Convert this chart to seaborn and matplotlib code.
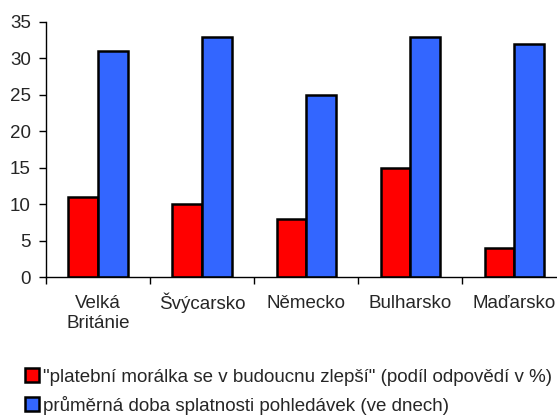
import pandas as pd
import matplotlib
matplotlib.use("Agg")
import matplotlib.pyplot as plt
import matplotlib.transforms as mtransforms
import seaborn as sns

countries = ["Velká\nBritánie", "Švýcarsko", "Německo", "Bulharsko", "Maďarsko"]
morale = [11, 10, 8, 15, 4]
days = [31, 33, 25, 33, 32]
series = ["\"platební morálka se v budoucnu zlepší\" (podíl odpovědí v %)",
          "průměrná doba splatnosti pohledávek (ve dnech)"]
colors = ["#ff0000", "#3366ff"]

df = pd.DataFrame({
    "country": countries * 2,
    "value": morale + days,
    "series": [series[0]] * len(countries) + [series[1]] * len(countries),
})

sns.set_style("white")
plt.rcParams["font.family"] = ["Liberation Sans", "DejaVu Sans"]

fig = plt.figure(figsize=(5.57, 4.16), dpi=100)
ax = fig.add_axes([46 / 557, 1 - 277 / 416, 1 - 46 / 557, (277 - 22) / 416])

sns.barplot(data=df, x="country", y="value", hue="series", palette=colors,
            saturation=1, width=0.57, edgecolor="black", linewidth=1.8,
            ax=ax, legend=False)

ax.set_ylim(0, 35)
ax.set_yticks(range(0, 36, 5))
ax.set_xlim(-0.5, 4.41)
ax.set_xticks([i - 0.5 for i in range(len(countries))])
ax.set_xticklabels([])
ax.set_xticks(range(len(countries)), minor=True)
ax.set_xticklabels(countries, minor=True, linespacing=1.2, fontsize=13.5)
ax.tick_params(axis="x", which="major", direction="out", length=5, width=1, color="black", bottom=True)
ax.tick_params(axis="x", which="minor", length=0, pad=13)
ax.tick_params(axis="y", direction="out", length=5, width=1, color="black", left=True,
               pad=6, labelsize=13.5)
ax.set_xlabel("")
ax.set_ylabel("")
for s in ["top", "right"]:
    ax.spines[s].set_visible(False)
for s in ["left", "bottom"]:
    ax.spines[s].set_color("black")
    ax.spines[s].set_linewidth(1)

# the caron on "Š" pushes that label down; lift it back onto the common baseline
for lbl in ax.get_xticklabels(minor=True):
    if lbl.get_text().startswith("Š"):
        lift = mtransforms.ScaledTranslation(0, 1.5 / 72, fig.dpi_scale_trans)
        lbl.set_transform(lbl.get_transform() + lift)

handles = [plt.Rectangle((0, 0), 1, 1, facecolor=c, edgecolor="black", linewidth=1.8) for c in colors]
fig.legend(handles, series, loc="upper left", bbox_to_anchor=(0.045, 0.115),
           frameon=False, handlelength=0.75, handleheight=0.75, handletextpad=0.2,
           labelspacing=0.55, borderaxespad=0, borderpad=0, fontsize=13.5)

fig.savefig("out.png", dpi=100)
